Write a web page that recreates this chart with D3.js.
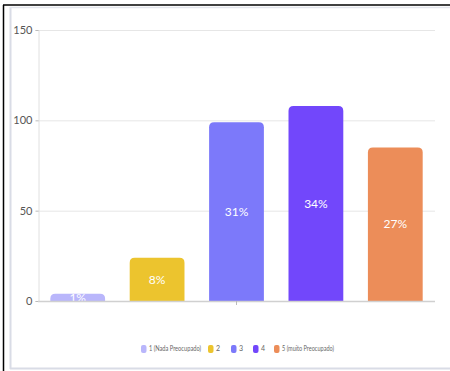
<!DOCTYPE html>
<html>
<head>
<meta charset="utf-8">
<script src="https://cdn.jsdelivr.net/npm/d3@7"></script>
<style>
  html, body { margin: 0; padding: 0; background: #fff; }
  svg { display: block; }
</style>
</head>
<body>
<svg id="chart" width="450" height="371"></svg>
<script>
const categories = ["1 (Nada Preocupado)", "2", "3", "4", "5 (muito Preocupado)"];
const values = [4, 24, 99, 108, 85];
const percentLabels = ["1%", "8%", "31%", "34%", "27%"];
const colors = ["#b9b6fb", "#ecc42e", "#7c79fa", "#7247fb", "#ec8d59"];
const yTicks = [0, 50, 100, 150];

(function () {
const svg = d3.select("#chart");
const W = 450, H = 371;

// frame
svg.append("rect").attr("x", 0).attr("y", 0).attr("width", W).attr("height", H).attr("fill", "#fff");
svg.append("line").attr("x1", 3.5).attr("x2", 3.5).attr("y1", 5).attr("y2", H).attr("stroke", "#000").attr("stroke-width", 1.5);
svg.append("line").attr("x1", 3).attr("x2", W).attr("y1", 5).attr("y2", 5).attr("stroke", "#000").attr("stroke-width", 1.5);
svg.append("line").attr("x1", 10.5).attr("x2", 10.5).attr("y1", 7).attr("y2", 369).attr("stroke", "#d9dce6").attr("stroke-width", 2);
svg.append("line").attr("x1", 10).attr("x2", W).attr("y1", 7.5).attr("y2", 7.5).attr("stroke", "#e3e5ec").attr("stroke-width", 1.5);
svg.append("line").attr("x1", 10).attr("x2", W).attr("y1", 368.5).attr("y2", 368.5).attr("stroke", "#d9dce6").attr("stroke-width", 2);

const mLeft = 38, mRight = 435, mTop = 30, mBottom = 301;

const x = d3.scaleBand().domain(categories).range([mLeft, mRight]).paddingInner(0.31).paddingOuter(0.155);
const y = d3.scaleLinear().domain([0, 150]).range([mBottom, mTop]);

// gridlines
svg.append("g").selectAll("line").data(yTicks.filter(d => d > 0)).join("line")
  .attr("x1", mLeft).attr("x2", mRight)
  .attr("y1", d => y(d) + 0.5).attr("y2", d => y(d) + 0.5)
  .attr("stroke", "#e6e6e6").attr("stroke-width", 1);

// y axis
const yAxis = svg.append("g").attr("transform", `translate(${mLeft + 0.5},0)`)
  .call(d3.axisLeft(y).tickValues(yTicks).tickSize(3).tickPadding(3));
yAxis.select(".domain").attr("stroke", "#e0e0e0");
yAxis.selectAll(".tick line").attr("stroke", "#bbb");
yAxis.selectAll(".tick text").attr("fill", "#555").attr("font-family", "Lato, 'Open Sans', sans-serif").attr("font-size", 11);

// bars with rounded tops
const r = 5;
function barPath(d, i) {
  const x0 = x(categories[i]), w = x.bandwidth();
  const y0 = y(d), y1 = y(0);
  const rr = Math.min(r, (y1 - y0));
  return `M${x0},${y1} L${x0},${y0 + rr} Q${x0},${y0} ${x0 + rr},${y0} L${x0 + w - rr},${y0} Q${x0 + w},${y0} ${x0 + w},${y0 + rr} L${x0 + w},${y1} Z`;
}
svg.append("g").selectAll("path").data(values).join("path")
  .attr("d", (d, i) => barPath(d, i))
  .attr("fill", (d, i) => colors[i]);

// bar labels
svg.append("g").selectAll("text").data(values).join("text")
  .attr("x", (d, i) => x(categories[i]) + x.bandwidth() / 2)
  .attr("y", d => (y(d) + y(0)) / 2)
  .attr("dy", "0.35em")
  .attr("text-anchor", "middle")
  .attr("fill", "#fff")
  .attr("font-family", "Lato, 'Open Sans', sans-serif")
  .attr("font-size", 12)
  .text((d, i) => percentLabels[i]);

// x axis line
svg.append("line").attr("x1", mLeft).attr("x2", mRight).attr("y1", mBottom + 0.5).attr("y2", mBottom + 0.5)
  .attr("stroke", "#d0d0d0").attr("stroke-width", 1.5);
const mid = (mLeft + mRight) / 2;
svg.append("line").attr("x1", mid).attr("x2", mid).attr("y1", mBottom).attr("y2", mBottom + 4)
  .attr("stroke", "#bbb");

// legend
const legendX = [141, 208, 231, 253, 274];
const lg = svg.append("g").selectAll("g").data(categories).join("g")
  .attr("transform", (d, i) => `translate(${legendX[i]},345)`);
lg.append("rect").attr("width", 5.5).attr("height", 8).attr("rx", 2).attr("fill", (d, i) => colors[i]);
lg.append("text").attr("x", 8).attr("y", 4).attr("dy", "0.35em")
  .attr("font-family", "Lato, 'Open Sans', sans-serif").attr("font-size", 7)
  .attr("fill", "#666").text(d => d)
  .each(function (d) {
    if (d.length > 2) d3.select(this).attr("textLength", 52).attr("lengthAdjust", "spacingAndGlyphs");
  });
})();
</script>
</body>
</html>
